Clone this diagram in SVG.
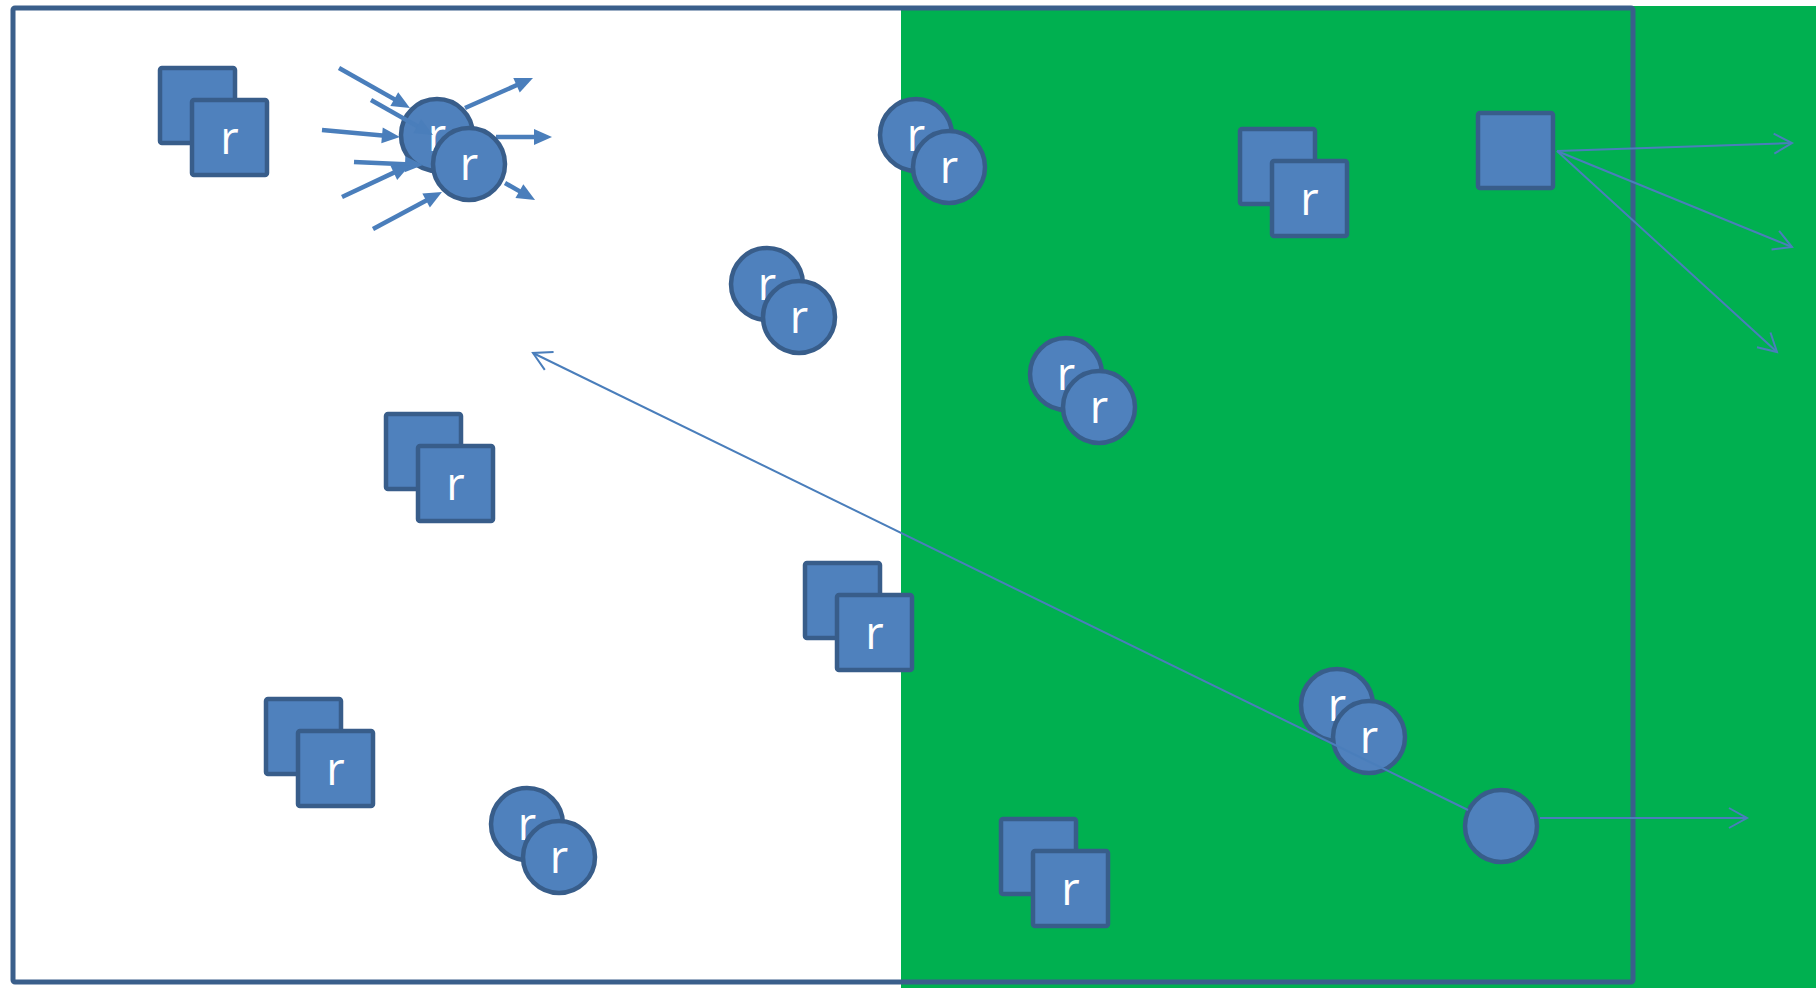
<svg xmlns="http://www.w3.org/2000/svg" width="1819" height="994" viewBox="0 0 1819 994">
  <style>
    .sq { fill: #4F81BD; stroke: #385D8A; stroke-width: 4.5; }
    .ci { fill: #4F81BD; stroke: #385D8A; stroke-width: 4.5; }
    .lbl { fill: #FFFFFF; font-family: "Open Sans", "Liberation Sans", sans-serif; font-size: 45px; text-anchor: middle; }
    .thick { stroke: #4A7EBB; stroke-width: 4.5; fill: none; marker-end: url(#solid-head); }
    .thin { stroke: #4A7EBB; stroke-width: 2; fill: none; marker-end: url(#open-head); }
  </style>
  <defs>
    <marker id="solid-head" markerUnits="userSpaceOnUse" markerWidth="18" markerHeight="16" refX="6" refY="8" orient="auto" overflow="visible">
      <path d="M0,0 L18,8 L0,16 z" fill="#4A7EBB"/>
    </marker>
    <marker id="open-head" markerUnits="userSpaceOnUse" markerWidth="20" markerHeight="22" refX="18" refY="10" orient="auto" overflow="visible">
      <path d="M0,0 L18,10 L0,20" fill="none" stroke="#4A7EBB" stroke-width="2"/>
    </marker>
  </defs>

  <!-- background and zones -->
  <rect x="0" y="0" width="1819" height="994" fill="#FFFFFF"/>
  <rect id="green-zone" x="901" y="6" width="915" height="982" fill="#00B050"/>
  <rect id="frame" x="13" y="8" width="1620" height="974" fill="none" stroke="#3A5F8B" stroke-width="5" rx="2"/>

  <!-- square pairs -->
  <g id="sq1-back"><rect class="sq" x="160" y="68" width="75" height="75" rx="2"/></g>
  <g id="sq1"><rect class="sq" x="192" y="100" width="75" height="75" rx="2"/><text class="lbl" x="229.5" y="153.5">r</text></g>

  <g id="sq2-back"><rect class="sq" x="386" y="414" width="75" height="75" rx="2"/></g>
  <g id="sq2"><rect class="sq" x="418" y="446" width="75" height="75" rx="2"/><text class="lbl" x="455.5" y="499.5">r</text></g>

  <g id="sq3-back"><rect class="sq" x="805" y="563" width="75" height="75" rx="2"/></g>
  <g id="sq3"><rect class="sq" x="837" y="595" width="75" height="75" rx="2"/><text class="lbl" x="874.5" y="648.5">r</text></g>

  <g id="sq4-back"><rect class="sq" x="266" y="699" width="75" height="75" rx="2"/></g>
  <g id="sq4"><rect class="sq" x="298" y="731" width="75" height="75" rx="2"/><text class="lbl" x="335.5" y="784.5">r</text></g>

  <g id="sq5-back"><rect class="sq" x="1001" y="819" width="75" height="75" rx="2"/></g>
  <g id="sq5"><rect class="sq" x="1033" y="851" width="75" height="75" rx="2"/><text class="lbl" x="1070.5" y="904.5">r</text></g>

  <g id="sq6-back"><rect class="sq" x="1240" y="129" width="75" height="75" rx="2"/></g>
  <g id="sq6"><rect class="sq" x="1272" y="161" width="75" height="75" rx="2"/><text class="lbl" x="1309.5" y="214.5">r</text></g>

  <g id="sq-source"><rect class="sq" x="1478" y="113" width="75" height="75" rx="2"/></g>

  <!-- circle pair with incoming / outgoing flows -->
  <g id="ci1-back"><circle class="ci" cx="437" cy="135" r="36"/><text class="lbl" x="437" y="151">r</text></g>
  <g id="burst-arrows">
    <path class="thick" d="M339,68 L399.5,102.1"/>
    <path class="thick" d="M371,100 L422.5,129.1"/>
    <path class="thick" d="M322,130 L388,135.9"/>
    <path class="thick" d="M354,162 L411,164.5"/>
    <path class="thick" d="M342,197 L399.2,170.1"/>
    <path class="thick" d="M373,229 L431.4,197.7"/>
    <path class="thick" d="M465,108 L522,82.8"/>
    <path class="thick" d="M496,137 L540,137"/>
    <path class="thick" d="M505,183 L524.6,194.1"/>
  </g>
  <g id="ci1"><circle class="ci" cx="469" cy="164" r="36"/><text class="lbl" x="469" y="180">r</text></g>

  <!-- circle pairs -->
  <g id="ci2-back"><circle class="ci" cx="916" cy="135" r="36"/><text class="lbl" x="916" y="151">r</text></g>
  <g id="ci2"><circle class="ci" cx="949" cy="167" r="36"/><text class="lbl" x="949" y="183">r</text></g>

  <g id="ci3-back"><circle class="ci" cx="767" cy="284" r="36"/><text class="lbl" x="767" y="300">r</text></g>
  <g id="ci3"><circle class="ci" cx="799" cy="317" r="36"/><text class="lbl" x="799" y="333">r</text></g>

  <g id="ci4-back"><circle class="ci" cx="1066" cy="374" r="36"/><text class="lbl" x="1066" y="390">r</text></g>
  <g id="ci4"><circle class="ci" cx="1099" cy="407" r="36"/><text class="lbl" x="1099" y="423">r</text></g>

  <g id="ci5-back"><circle class="ci" cx="1337" cy="705" r="36"/><text class="lbl" x="1337" y="721">r</text></g>
  <g id="ci5"><circle class="ci" cx="1369" cy="737" r="36"/><text class="lbl" x="1369" y="753">r</text></g>

  <g id="ci6-back"><circle class="ci" cx="527" cy="824" r="36"/><text class="lbl" x="527" y="840">r</text></g>
  <g id="ci6"><circle class="ci" cx="559" cy="857" r="36"/><text class="lbl" x="559" y="873">r</text></g>

  <g id="ci-source"><circle class="ci" cx="1501" cy="826" r="36"/></g>

  <!-- connectors -->
  <g id="connectors">
    <path class="thin" d="M1557,151 L1792,143"/>
    <path class="thin" d="M1557,151 L1792,247"/>
    <path class="thin" d="M1557,151 L1777,352"/>
    <path class="thin" d="M1540,818 L1747,818"/>
    <path class="thin" d="M1468,810 L533,353"/>
  </g>
</svg>
